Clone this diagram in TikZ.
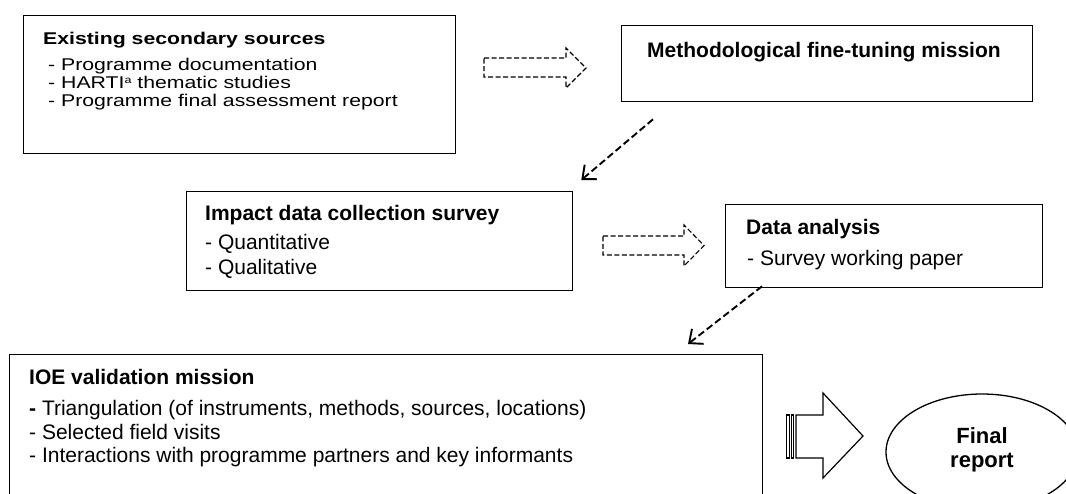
\documentclass[tikz,border=0pt]{standalone}
\usepackage{fontspec}
\setmainfont{Liberation Sans}
\newfontfamily\widefont{Liberation Sans}[FakeStretch=1.25]
\usetikzlibrary{arrows.meta,shapes.geometric,calc}

\begin{document}
\begin{tikzpicture}[x=1pt,y=-1pt,
  box/.style={draw=black, line width=1.3pt, rectangle, inner sep=0pt, anchor=north west},
  txt/.style={inner sep=0pt, anchor=base west, font=\fontsize{21}{25}\selectfont},
  ttl/.style={inner sep=0pt, anchor=base west, font=\fontsize{21}{25}\selectfont\bfseries},
  wtxt/.style={inner sep=0pt, anchor=base west, font=\widefont\fontsize{17}{17}\selectfont},
  wttl/.style={inner sep=0pt, anchor=base west, font=\widefont\fontsize{17}{17}\selectfont\bfseries},
  flow/.style={line width=1.9pt, dash pattern=on 7pt off 3.5pt, -{Straight Barb[length=11pt,width=19pt,line width=1.9pt]}},
  hollowarrow/.style={draw=black, line width=1.1pt, dash pattern=on 5pt off 2.5pt, line join=miter},
  solidarrow/.style={draw=black, line width=1.2pt, line join=miter}
]
\useasboundingbox (0,0) rectangle (1066,493);
\clip (0,0) rectangle (1066,493);

% ---- boxes ----
\node[box, minimum width=432pt, minimum height=138pt] (src) at (23,15) {};
\node[box, minimum width=411pt, minimum height=76pt] (tune) at (621,25) {};
\node[box, minimum width=386pt, minimum height=99pt] (survey) at (186,191) {};
\node[box, minimum width=317pt, minimum height=83pt] (analysis) at (725,204) {};
\node[box, minimum width=753pt, minimum height=170pt] (ioe) at (9,354) {};
\node[draw=black, line width=1.3pt, ellipse, minimum width=192pt, minimum height=116pt, inner sep=0pt] (final) at (982,452) {};

% ---- box texts ----
\node[wttl] (srcT) at (43,44) {Existing secondary sources};
\node[wtxt] (src1) at (48,70) {- Programme documentation};
\node[wtxt] (src2) at (48,88.5) {- HARTI\raisebox{5pt}{\fontsize{10}{10}\selectfont a} thematic studies};
\node[wtxt] (src3) at (48,106) {- Programme final assessment report};

\node[ttl] (tuneT) at (647,57) {Methodological fine-tuning mission};

\node[ttl] (surveyT) at (205,220) {Impact data collection survey};
\node[txt] (survey1) at (205,249) {- Quantitative};
\node[txt] (survey2) at (205,274) {- Qualitative};

\node[ttl] (analysisT) at (746,234) {Data analysis};
\node[txt] (analysis1) at (747,265) {- Survey working paper};

\node[ttl] (ioeT) at (29,384) {IOE validation mission};
\node[txt] (ioe1) at (29,415) {\textbf{-} Triangulation (of instruments, methods, sources, locations)};
\node[txt] (ioe2) at (29,439) {- Selected field visits};
\node[txt] (ioe3) at (29,462) {- Interactions with programme partners and key informants};

\node[inner sep=0pt, anchor=base, font=\fontsize{22}{26}\selectfont\bfseries] (finalT1) at (982,443) {Final};
\node[inner sep=0pt, anchor=base, font=\fontsize{22}{26}\selectfont\bfseries] (finalT2) at (982,467) {report};

% ---- dashed block arrows ----
\draw[hollowarrow] (484,58) -- (566,58) -- (566,48) -- (586,68) -- (566,88) -- (566,77) -- (484,77) -- cycle;
\draw[hollowarrow] (603,236) -- (684,236) -- (684,225) -- (704,245.5) -- (684,266) -- (684,255) -- (603,255) -- cycle;

% ---- striped block arrow towards the report ----
\draw[solidarrow] (796,415) -- (823,415) -- (823,393) -- (863,436) -- (823,478) -- (823,458) -- (796,458) -- cycle;
\draw[solidarrow] (786.5,415) rectangle (789.5,458);
\draw[solidarrow] (791.5,415) rectangle (793.5,458);

% ---- dashed connectors ----
\coordinate (c1s) at ($(tune.south west)+(32,17)$);
\coordinate (c1e) at ($(survey.north east)+(8,-11)$);
\draw[flow] (c1s) -- (c1e);
\coordinate (c2s) at ($(analysis.south west)+(37,-2)$);
\coordinate (c2e) at ($(ioe.north west)+(679,-10)$);
\draw[flow] (c2s) -- (c2e);
\end{tikzpicture}
\end{document}
